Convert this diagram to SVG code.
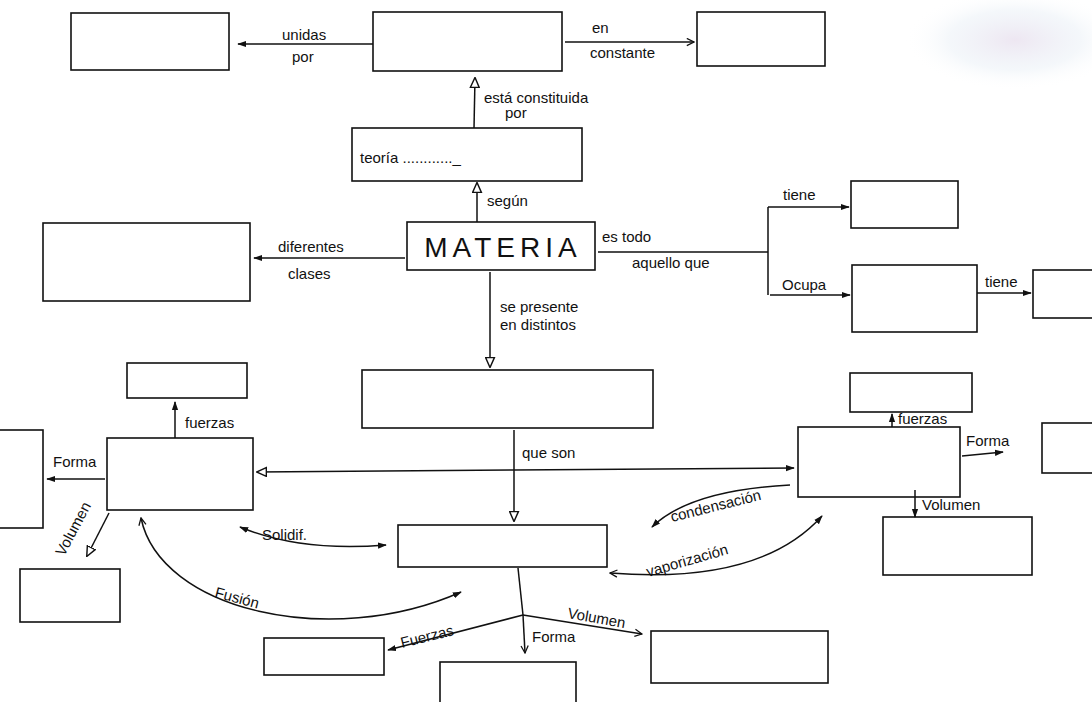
<svg xmlns="http://www.w3.org/2000/svg" width="1092" height="702" viewBox="0 0 1092 702">
<style>
.box{fill:none;stroke:#111;stroke-width:1.6}
.ln{fill:none;stroke:#111;stroke-width:1.5}
.t{font-family:"Liberation Sans",Arial,sans-serif;font-size:15px;fill:#111}
.big{font-family:"Liberation Sans",Arial,sans-serif;font-size:28px;fill:#111;letter-spacing:5px}
</style>
<defs>
<marker id="af" viewBox="0 0 10 10" refX="9" refY="5" markerWidth="9" markerHeight="9" markerUnits="userSpaceOnUse" orient="auto-start-reverse"><path d="M0,1.5 L10,5 L0,8.5 Z" fill="#111"/></marker>
<marker id="ao" viewBox="0 0 10 10" refX="9" refY="5" markerWidth="11" markerHeight="11" markerUnits="userSpaceOnUse" orient="auto-start-reverse"><path d="M0.5,1 L9.5,5 L0.5,9 Z" fill="#fff" stroke="#111" stroke-width="1.3"/></marker>
<marker id="ac" viewBox="0 0 10 10" refX="9" refY="5" markerWidth="9" markerHeight="9" markerUnits="userSpaceOnUse" orient="auto-start-reverse"><path d="M1,1 L9,5 L1,9" fill="none" stroke="#111" stroke-width="1.4"/></marker>
<radialGradient id="smudge" cx="0.5" cy="0.5" r="0.5"><stop offset="0" stop-color="#e6dcec" stop-opacity="0.7"/><stop offset="0.6" stop-color="#e4ecf4" stop-opacity="0.4"/><stop offset="1" stop-color="#ffffff" stop-opacity="0"/></radialGradient>
</defs>
<rect width="1092" height="702" fill="#fff"/>
<ellipse cx="1015" cy="40" rx="110" ry="50" fill="url(#smudge)"/>

<g id="n1"><rect class="box" x="71" y="13" width="158" height="57"/></g>
<g id="n2"><rect class="box" x="373" y="12" width="189" height="59"/></g>
<g id="n3"><rect class="box" x="697" y="12" width="128" height="54"/></g>
<g id="n4"><rect class="box" x="352" y="128" width="230" height="53"/><text class="t" x="360" y="163">teoría ............_</text></g>
<g id="n5"><rect class="box" x="407" y="222" width="188" height="48"/><text class="big" x="503" y="257" text-anchor="middle">MATERIA</text></g>
<g id="n6"><rect class="box" x="43" y="223" width="207" height="78"/></g>
<g id="n7"><rect class="box" x="851" y="181" width="107" height="47"/></g>
<g id="n8"><rect class="box" x="852" y="265" width="125" height="67"/></g>
<g id="n9"><rect class="box" x="1033" y="270" width="70" height="48"/></g>
<g id="n10"><rect class="box" x="362" y="370" width="291" height="58"/></g>
<g id="n11"><rect class="box" x="127" y="363" width="120" height="35"/></g>
<g id="n12"><rect class="box" x="107" y="438" width="146" height="72"/></g>
<g id="n13"><rect class="box" x="-5" y="430" width="48" height="98"/></g>
<g id="n14"><rect class="box" x="20" y="569" width="100" height="53"/></g>
<g id="n15"><rect class="box" x="398" y="525" width="209" height="42"/></g>
<g id="n16"><rect class="box" x="798" y="427" width="162" height="70"/></g>
<g id="n17"><rect class="box" x="850" y="373" width="122" height="39"/></g>
<g id="n18"><rect class="box" x="1042" y="423" width="60" height="50"/></g>
<g id="n19"><rect class="box" x="883" y="517" width="149" height="58"/></g>
<g id="n20"><rect class="box" x="264" y="638" width="120" height="37"/></g>
<g id="n21"><rect class="box" x="440" y="662" width="136" height="50"/></g>
<g id="n22"><rect class="box" x="651" y="631" width="177" height="52"/></g>

<g id="connectors">
<path class="ln" d="M373,44 L238,44" marker-end="url(#af)"/>
<text class="t" x="282" y="40">unidas</text><text class="t" x="292" y="62">por</text>
<path class="ln" d="M565,42 L694,42" marker-end="url(#ac)"/>
<text class="t" x="592" y="33">en</text><text class="t" x="590" y="58">constante</text>
<path class="ln" d="M474,128 L475,78" marker-end="url(#ao)"/>
<text class="t" x="484" y="103">está constituida</text><text class="t" x="505" y="118" font-size="13">por</text>
<path class="ln" d="M477,222 L477,183" marker-end="url(#ao)"/>
<text class="t" x="487" y="206">según</text>
<path class="ln" d="M405,258 L254,258" marker-end="url(#af)"/>
<text class="t" x="278" y="252">diferentes</text><text class="t" x="288" y="279">clases</text>
<path class="ln" d="M598,252 L768,252 M768,207 L768,295"/>
<path class="ln" d="M768,207 L849,207" marker-end="url(#af)"/>
<path class="ln" d="M770,295 L850,295" marker-end="url(#af)"/>
<text class="t" x="602" y="242">es todo</text><text class="t" x="632" y="268">aquello que</text>
<text class="t" x="783" y="200">tiene</text><text class="t" x="782" y="290">Ocupa</text>
<path class="ln" d="M977,293 L1031,293" marker-end="url(#af)"/>
<text class="t" x="985" y="287">tiene</text>
<path class="ln" d="M490,272 L490,367" marker-end="url(#ao)"/>
<text class="t" x="500" y="312">se presente</text><text class="t" x="500" y="330">en distintos</text>
<path class="ln" d="M514,430 L514,521" marker-end="url(#ao)"/>
<text class="t" x="522" y="458">que son</text>
<path class="ln" d="M514,470 L257,472" marker-end="url(#ao)"/>
<path class="ln" d="M514,470 L794,468" marker-end="url(#af)"/>
<path class="ln" d="M175,438 L175,402" marker-end="url(#af)"/>
<text class="t" x="185" y="428">fuerzas</text>
<path class="ln" d="M105,479 L47,479" marker-end="url(#af)"/>
<text class="t" x="53" y="467">Forma</text>
<path class="ln" d="M109,513 L87,556" marker-end="url(#ao)"/>
<text class="t" x="0" y="0" transform="translate(64,557) rotate(-62)" font-size="13">Volumen</text>
<path class="ln" d="M386,545 Q300,552 240,527" marker-start="url(#af)" marker-end="url(#af)"/>
<text class="t" x="262" y="540">Solidif.</text>
<path class="ln" d="M141,518 C160,610 330,650 461,592" marker-start="url(#ac)" marker-end="url(#af)"/>
<text class="t" x="0" y="0" transform="translate(214,597) rotate(15)">Fusión</text>
<path class="ln" d="M790,485 Q690,490 652,527" marker-end="url(#af)"/>
<text class="t" x="0" y="0" transform="translate(672,522) rotate(-14)">condensación</text>
<path class="ln" d="M822,516 Q760,585 610,573" marker-start="url(#af)" marker-end="url(#ac)"/>
<text class="t" x="0" y="0" transform="translate(648,577) rotate(-16)">vaporización</text>
<path class="ln" d="M518,568 L523,615"/>
<path class="ln" d="M523,615 L388,650" marker-end="url(#af)"/>
<path class="ln" d="M523,615 L525,653" marker-end="url(#ac)"/>
<path class="ln" d="M523,615 L642,634" marker-end="url(#ac)"/>
<text class="t" x="0" y="0" transform="translate(402,648) rotate(-14)">Fuerzas</text>
<text class="t" x="532" y="642" font-size="13">Forma</text>
<text class="t" x="0" y="0" transform="translate(567,618) rotate(10)">Volumen</text>
<path class="ln" d="M892,427 L892,414" marker-end="url(#af)"/>
<text class="t" x="898" y="424" font-size="13">fuerzas</text>
<path class="ln" d="M962,456 L1003,452" marker-end="url(#af)"/>
<text class="t" x="966" y="446">Forma</text>
<path class="ln" d="M915,490 L915,517" marker-end="url(#af)"/>
<text class="t" x="922" y="510">Volumen</text>
</g>
</svg>
